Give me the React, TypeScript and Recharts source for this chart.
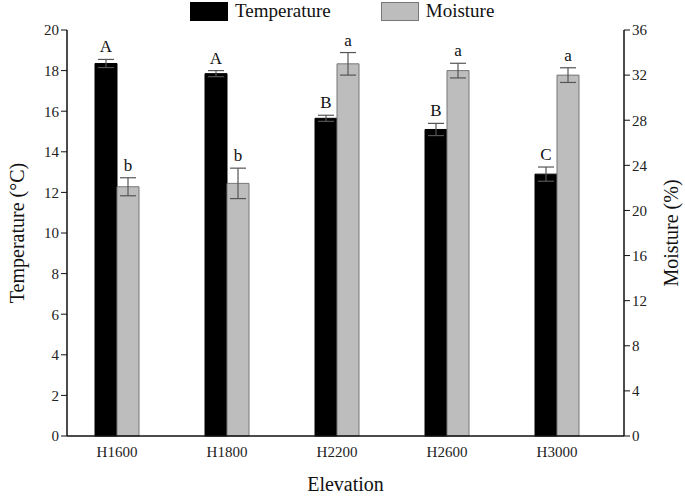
import { Bar, BarChart, ErrorBar, LabelList, XAxis, YAxis } from 'recharts';

const elevations = ['H1600', 'H1800', 'H2200', 'H2600', 'H3000'];
const temperature = [18.35, 17.85, 15.65, 15.1, 12.9];
const temperatureErr = [0.2, 0.15, 0.15, 0.3, 0.35];
const temperatureGroup = ['A', 'A', 'B', 'B', 'C'];
const moisture = [22.1, 22.4, 33.0, 32.4, 32.0];
const moistureErr = [0.8, 1.35, 1.0, 0.65, 0.65];
const moistureGroup = ['b', 'b', 'a', 'a', 'a'];
const leftTicks = [0, 2, 4, 6, 8, 10, 12, 14, 16, 18, 20];
const rightTicks = [0, 4, 8, 12, 16, 20, 24, 28, 32, 36];

const data = elevations.map((name, i) => ({
  name,
  temperature: temperature[i],
  temperatureErr: temperatureErr[i],
  temperatureGroup: temperatureGroup[i],
  moisture: moisture[i],
  moistureErr: moistureErr[i],
  moistureGroup: moistureGroup[i],
}));

const FONT = '"Liberation Serif", "Times New Roman", serif';

function groupLabel(values: number[], errs: number[]) {
  return (props: any) => {
    const { x, y, width, height, value, index } = props;
    const errPx = (errs[index] / values[index]) * height;
    return (
      <text x={x + width / 2} y={y - errPx - 7} textAnchor="middle" fontFamily={FONT} fontSize={17} fill="#111">
        {value}
      </text>
    );
  };
}

function LegendBox() {
  return (
    <div style={{ position: 'absolute', top: 0, left: 190, display: 'flex', fontFamily: FONT, fontSize: 19, color: '#111', lineHeight: '22px' }}>
      <span style={{ display: 'inline-block', width: 38, height: 19, background: '#000', marginRight: 7, marginTop: 2 }} />
      <span style={{ marginRight: 50 }}>Temperature</span>
      <span style={{ display: 'inline-block', width: 36, height: 17, background: '#bdbdbd', border: '1px solid #777', marginRight: 7, marginTop: 2 }} />
      <span>Moisture</span>
    </div>
  );
}

export default function App() {
  return (
    <div style={{ position: 'absolute', left: 0, top: 0, width: 685, height: 499, background: '#fff' }}>
      <BarChart width={685} height={499} data={data} margin={{ top: 30, right: 0, bottom: 0, left: 0 }} barGap={0} barSize={22}>
        <XAxis
          dataKey="name"
          height={63}
          padding={{ left: -5, right: 12 }}
          tickLine={false}
          axisLine={{ stroke: '#111', strokeWidth: 1.5 }}
          tick={{ fontFamily: FONT, fontSize: 15, fill: '#222' }}
          tickMargin={4}
          label={{ value: 'Elevation', position: 'insideBottom', offset: 8, fontFamily: FONT, fontSize: 20, fill: '#111' }}
        />
        <YAxis
          yAxisId="left"
          width={67}
          domain={[0, 20]}
          ticks={leftTicks}
          interval={0}
          tickSize={6}
          tickLine={{ stroke: '#111' }}
          axisLine={{ stroke: '#111', strokeWidth: 1.5 }}
          tick={{ fontFamily: FONT, fontSize: 15, fill: '#222' }}
          label={{ value: 'Temperature (°C)', angle: -90, position: 'insideLeft', offset: 17, style: { textAnchor: 'middle' }, fontFamily: FONT, fontSize: 20, fill: '#111' }}
        />
        <YAxis
          yAxisId="right"
          orientation="right"
          width={61}
          domain={[0, 36]}
          ticks={rightTicks}
          interval={0}
          tickSize={6}
          tickLine={{ stroke: '#111' }}
          axisLine={{ stroke: '#111', strokeWidth: 1.5 }}
          tick={{ fontFamily: FONT, fontSize: 15, fill: '#222' }}
          label={{ value: 'Moisture (%)', angle: -90, position: 'insideRight', offset: 14, style: { textAnchor: 'middle' }, fontFamily: FONT, fontSize: 20, fill: '#111' }}
        />
        <Bar yAxisId="left" dataKey="temperature" fill="#000" stroke="#000" isAnimationActive={false}>
          <ErrorBar dataKey="temperatureErr" width={8} stroke="#555" strokeWidth={1.2} />
          <LabelList dataKey="temperatureGroup" content={groupLabel(temperature, temperatureErr)} />
        </Bar>
        <Bar yAxisId="right" dataKey="moisture" fill="#bdbdbd" stroke="#777" isAnimationActive={false}>
          <ErrorBar dataKey="moistureErr" width={8} stroke="#555" strokeWidth={1.2} />
          <LabelList dataKey="moistureGroup" content={groupLabel(moisture, moistureErr)} />
        </Bar>
      </BarChart>
      <LegendBox />
    </div>
  );
}
